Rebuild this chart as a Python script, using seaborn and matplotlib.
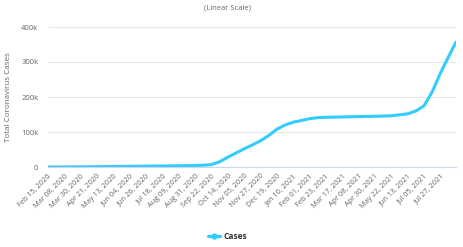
import matplotlib
matplotlib.use("Agg")
import matplotlib.pyplot as plt
import seaborn as sns
import pandas as pd
import numpy as np
from matplotlib.lines import Line2D

sns.set_style("white")
plt.rcParams['font.family'] = ['Open Sans', 'DejaVu Sans']

start_date = "2020-02-15"
day_offsets = [0, 11, 22, 33, 44, 55, 66, 77, 88, 99, 110, 121, 132, 143, 154, 165, 176, 187, 198,
               209, 220, 231, 242, 253, 264, 275, 286, 297, 308, 319, 330, 341, 352, 363, 374,
               385, 396, 407, 418, 429, 440, 451, 462, 473, 484, 495, 506, 517, 528, 539, 549]
cases_k = [0, 0, 0.1, 0.3, 0.5, 0.8, 1.0, 1.2, 1.5, 1.8, 2.0, 2.3, 2.6, 2.8, 3.0, 3.2, 3.5, 4.0, 4.5,
           5, 7, 15, 28, 40, 52, 63, 75, 90, 108, 120, 128, 133, 138, 141, 142,
           142.5, 143, 143.5, 144, 144.5, 145, 145.5, 146.5, 149, 152, 160, 175, 215, 268, 315, 357]
tick_labels = ["Feb 15, 2020", "Mar 08, 2020", "Mar 30, 2020", "Apr 21, 2020", "May 13, 2020",
               "Jun 04, 2020", "Jun 26, 2020", "Jul 18, 2020", "Aug 09, 2020", "Aug 31, 2020",
               "Sep 22, 2020", "Oct 14, 2020", "Nov 05, 2020", "Nov 27, 2020", "Dec 19, 2020",
               "Jan 10, 2021", "Feb 01, 2021", "Feb 23, 2021", "Mar 17, 2021", "Apr 08, 2021",
               "Apr 30, 2021", "May 22, 2021", "Jun 13, 2021", "Jul 05, 2021", "Jul 27, 2021"]
y_ticks = [0, 100000, 200000, 300000, 400000]
y_tick_labels = ["0", "100k", "200k", "300k", "400k"]

dates = pd.to_datetime(start_date) + pd.to_timedelta(day_offsets, unit="D")
df = pd.DataFrame({"date": dates, "cases": np.array(cases_k) * 1000})

fig = plt.figure(figsize=(4.64, 2.47), dpi=100)
ax = fig.add_axes([48/464, 1-167/247, (456-48)/464, (167-27)/247])

color = "#33ccff"
sns.lineplot(data=df, x="date", y="cases", ax=ax, color=color, linewidth=2.2, legend=False)

ax.set_ylim(0, 400000)
ax.set_xlim(dates[0], dates[-1])
ax.set_yticks(y_ticks)
ax.set_yticklabels(y_tick_labels)
tick_dates = pd.to_datetime(tick_labels, format="%b %d, %Y")
ax.set_xticks(tick_dates)
ax.set_xticklabels(tick_labels, rotation=45, ha="right", rotation_mode="anchor")
ax.tick_params(axis="x", labelsize=5.3, colors="#666666", length=0, pad=4)
ax.tick_params(axis="y", labelsize=5.5, colors="#666666", length=0, pad=7)

ax.grid(axis="y", color="#e6e6e6", linewidth=0.8)
ax.set_axisbelow(True)
for s in ["top", "right", "left"]:
    ax.spines[s].set_visible(False)
ax.spines["bottom"].set_color("#ccd6eb")
ax.spines["bottom"].set_linewidth(0.8)

ax.set_xlabel("")
ax.set_ylabel("Total Coronavirus Cases", fontsize=5.8, color="#666666")
ax.yaxis.set_label_coords(-0.088, 0.5)

fig.text(0.49, 1-8/247, "(Linear Scale)", ha="center", va="center", fontsize=5.5, color="#666666")

handle = Line2D([0], [0], color=color, linewidth=2.3, marker="o", markersize=3.5)
leg = fig.legend(handles=[handle], labels=["Cases"], loc="center", bbox_to_anchor=(0.49, 1-236/247),
                 frameon=False, prop={"size": 6, "weight": "bold"}, handlelength=1.5, handletextpad=0.4)
for t in leg.get_texts():
    t.set_color("#333333")

fig.savefig("out.png", dpi=100)
